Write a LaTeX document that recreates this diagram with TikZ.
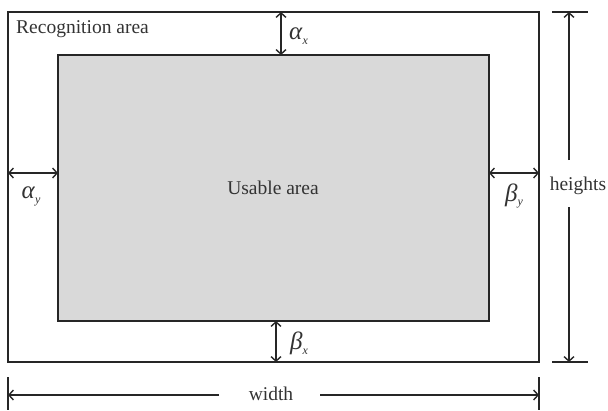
\documentclass[tikz,border=0pt]{standalone}
\usepackage{fontspec}
\setmainfont{Liberation Serif}
\usetikzlibrary{arrows.meta}
\tikzset{
  box/.style={draw=black!85, line width=2pt, inner sep=0pt},
  dim/.style={line width=1.5pt, draw=black!85},
  tip/.style={-{Straight Barb[length=4.5pt,width=10pt,line width=1.4pt]}},
  lbl/.style={font=\fontsize{19.5pt}{22pt}\selectfont, inner sep=0pt, text=black!80},
}
\newcommand{\gsub}[2]{{\fontsize{25pt}{28pt}\selectfont\textit{#1}}\raisebox{-0.55ex}{\fontsize{12pt}{13pt}\selectfont\textit{#2}}}
\begin{document}
\begin{tikzpicture}[x=1pt,y=-1pt]
\useasboundingbox (0,0) rectangle (608,410);
\node[box, minimum width=531pt, minimum height=350pt] (outer) at (273.5,187) {};
\node[box, fill=black!15, minimum width=431pt, minimum height=266pt] (inner) at (273.5,188) {};
\node[lbl, anchor=west] (rec) at (16,29) {Recognition area};
\node[lbl] (usable) at (273,188) {Usable area};
% alpha_x
\coordinate (ax1) at (281,12); \coordinate (ax2) at (281,55);
\draw[dim, tip] (ax1) -- (ax2);
\draw[dim, tip] (ax2) -- (ax1);
\node[lbl, anchor=west] (axl) at (289,36) {\gsub{α}{x}};
% beta_x
\coordinate (bx1) at (276,321); \coordinate (bx2) at (276,362);
\draw[dim, tip] (bx1) -- (bx2);
\draw[dim, tip] (bx2) -- (bx1);
\node[lbl, anchor=west] (bxl) at (290,343) {\gsub{β}{x}};
% alpha_y
\coordinate (ay1) at (8,173); \coordinate (ay2) at (58,173);
\draw[dim, tip] (ay1) -- (ay2);
\draw[dim, tip] (ay2) -- (ay1);
\node[lbl] (ayl) at (31,196) {\gsub{α}{y}};
% beta_y
\coordinate (by1) at (489,173); \coordinate (by2) at (539,173);
\draw[dim, tip] (by1) -- (by2);
\draw[dim, tip] (by2) -- (by1);
\node[lbl] (byl) at (514,196) {\gsub{β}{y}};
% heights
\coordinate (ht) at (569,12); \coordinate (hb) at (569,362);
\coordinate (hm1) at (569,160); \coordinate (hm2) at (569,207);
\draw[dim] (552,12) -- (588,12);
\draw[dim] (552,362) -- (588,362);
\draw[dim, tip] (hm1) -- (ht);
\draw[dim, tip] (hm2) -- (hb);
\node[lbl] (hl) at (578,186) {heights};
% width
\coordinate (wl) at (8,395); \coordinate (wr) at (539,395);
\coordinate (wm1) at (219,395); \coordinate (wm2) at (320,395);
\draw[dim] (8,377) -- (8,410);
\draw[dim] (539,377) -- (539,410);
\draw[dim, tip] (wm1) -- (wl);
\draw[dim, tip] (wm2) -- (wr);
\node[lbl] (wlab) at (271,394) {width};
\end{tikzpicture}
\end{document}
